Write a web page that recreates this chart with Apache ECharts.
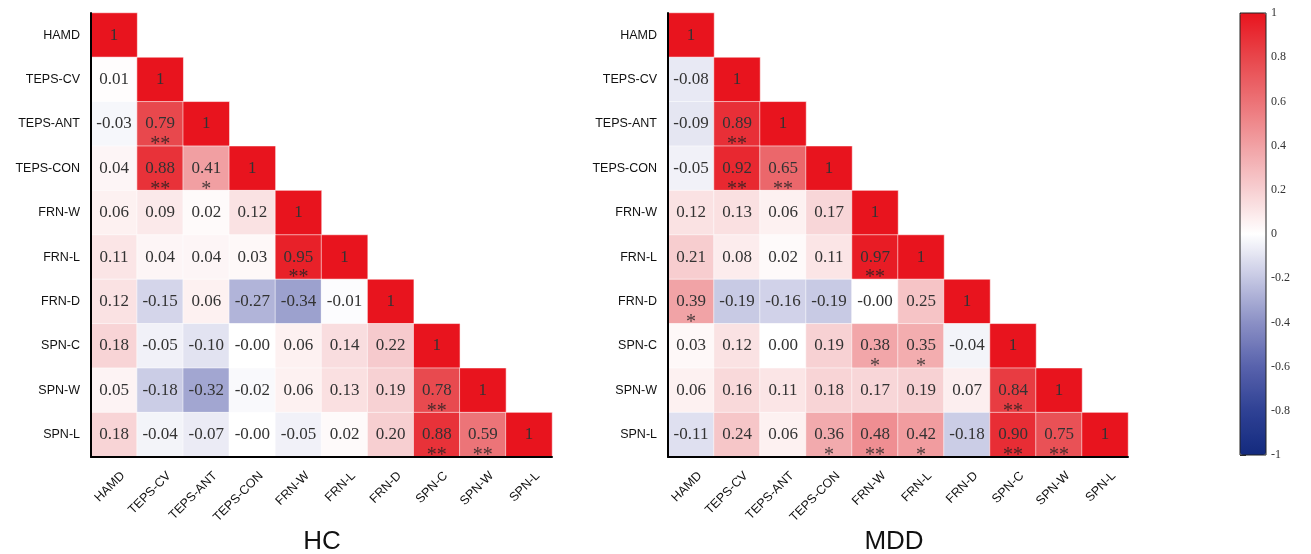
<!DOCTYPE html>
<html><head><meta charset="utf-8">
<script src="https://cdn.jsdelivr.net/npm/echarts@6/dist/echarts.min.js"></script>
<style>html,body{margin:0;padding:0;background:#fff}#c{width:1311px;height:554px}</style>
</head><body><div id="c"></div>
<script>
const vars = ['HAMD','TEPS-CV','TEPS-ANT','TEPS-CON','FRN-W','FRN-L','FRN-D','SPN-C','SPN-W','SPN-L'];
// lower-triangle rows (row i has i+1 values); -0 shown as "-0.00"
const hcRows = [
  [1],
  [0.01, 1],
  [-0.03, 0.79, 1],
  [0.04, 0.88, 0.41, 1],
  [0.06, 0.09, 0.02, 0.12, 1],
  [0.11, 0.04, 0.04, 0.03, 0.95, 1],
  [0.12, -0.15, 0.06, -0.27, -0.34, -0.01, 1],
  [0.18, -0.05, -0.10, -0, 0.06, 0.14, 0.22, 1],
  [0.05, -0.18, -0.32, -0.02, 0.06, 0.13, 0.19, 0.78, 1],
  [0.18, -0.04, -0.07, -0, -0.05, 0.02, 0.20, 0.88, 0.59, 1]
];
const hcSig = [
  [''],
  ['', ''],
  ['', '**', ''],
  ['', '**', '*', ''],
  ['', '', '', '', ''],
  ['', '', '', '', '**', ''],
  ['', '', '', '', '', '', ''],
  ['', '', '', '', '', '', '', ''],
  ['', '', '', '', '', '', '', '**', ''],
  ['', '', '', '', '', '', '', '**', '**', '']
];
const mddRows = [
  [1],
  [-0.08, 1],
  [-0.09, 0.89, 1],
  [-0.05, 0.92, 0.65, 1],
  [0.12, 0.13, 0.06, 0.17, 1],
  [0.21, 0.08, 0.02, 0.11, 0.97, 1],
  [0.39, -0.19, -0.16, -0.19, -0, 0.25, 1],
  [0.03, 0.12, 0.00, 0.19, 0.38, 0.35, -0.04, 1],
  [0.06, 0.16, 0.11, 0.18, 0.17, 0.19, 0.07, 0.84, 1],
  [-0.11, 0.24, 0.06, 0.36, 0.48, 0.42, -0.18, 0.90, 0.75, 1]
];
const mddSig = [
  [''],
  ['', ''],
  ['', '**', ''],
  ['', '**', '**', ''],
  ['', '', '', '', ''],
  ['', '', '', '', '**', ''],
  ['*', '', '', '', '', '', ''],
  ['', '', '', '', '*', '*', '', ''],
  ['', '', '', '', '', '', '', '**', ''],
  ['', '', '', '*', '**', '*', '', '**', '**', '']
];
const titles = ['HC', 'MDD'];
const colorTicks = [1, 0.8, 0.6, 0.4, 0.2, 0, -0.2, -0.4, -0.6, -0.8, -1];
const palette = ['#132a7e','#2f4194','#5862ac','#8b90c5','#c5c7e3','#ffffff','#f7cfd1','#f1a1a4','#ec7276','#e8464b','#e8141e'];

function fmt(v){
  if (v === 1) return '1';
  if (Object.is(v, -0)) return '-0.00';
  return v.toFixed(2);
}
function cells(rows){
  const out = [];
  rows.forEach((r, i) => r.forEach((v, j) => out.push({value:[j, i, v], lab: fmt(v)})));
  return out;
}
function stars(sig){
  const out = [];
  sig.forEach((r, i) => r.forEach((s, j) => { if (s) out.push({value:[j, i], s: s}); }));
  return out;
}

const grids = [
  {left: 91, top: 13, width: 461, height: 444},
  {left: 668, top: 13, width: 460, height: 444},
  {left: 1240, top: 13, width: 26, height: 442, show: true, borderColor: '#222', borderWidth: 1, backgroundColor: 'transparent', z: 10}
];
const xAxes = [], yAxes = [];
for (let g = 0; g < 2; g++) {
  xAxes.push({gridIndex: g, type: 'category', data: vars, z: 10,
    axisLine: {show: true, lineStyle: {color: '#000', width: 2}}, axisTick: {show: false},
    axisLabel: {rotate: 45, margin: 8, verticalAlign: 'top', lineHeight: 25,
      fontFamily: 'Liberation Sans', fontSize: 12.5, color: '#111', interval: 0},
    splitLine: {show: false}});
  yAxes.push({gridIndex: g, type: 'category', data: vars, inverse: true, z: 10,
    axisLine: {show: true, lineStyle: {color: '#000', width: 2}}, axisTick: {show: false},
    axisLabel: {margin: 11, fontFamily: 'Liberation Sans', fontSize: 12.5, color: '#111', interval: 0},
    splitLine: {show: false}});
}
xAxes.push({gridIndex: 2, type: 'value', show: false, min: 0, max: 1});
yAxes.push({gridIndex: 2, type: 'value', min: -1, max: 1, interval: 0.2, position: 'right',
  axisLine: {show: false}, splitLine: {show: false},
  axisTick: {show: true, length: 6, lineStyle: {color: '#333'}},
  axisLabel: {margin: 5, fontFamily: 'Liberation Serif', fontSize: 12, color: '#333',
    formatter: v => { const r = Math.round(v * 10) / 10; return colorTicks.indexOf(r) >= 0 ? String(r) : ''; }}});

const series = [];
[hcRows, mddRows].forEach((rows, g) => {
  series.push({type: 'heatmap', xAxisIndex: g, yAxisIndex: g, data: cells(rows),
    itemStyle: {borderColor: 'rgba(255,255,255,0.55)', borderWidth: 1},
    label: {show: true, formatter: p => p.data.lab, fontFamily: 'Liberation Serif', fontSize: 17, color: '#333'},
    emphasis: {disabled: true}});
});
[hcSig, mddSig].forEach((sig, g) => {
  series.push({type: 'scatter', xAxisIndex: g, yAxisIndex: g, data: stars(sig), symbolSize: 0, z: 5,
    label: {show: true, position: 'inside', offset: [0, 21], formatter: p => p.data.s,
      fontFamily: 'Liberation Serif', fontSize: 20, color: '#222'},
    emphasis: {disabled: true}});
});

const chart = echarts.init(document.getElementById('c'), null, {renderer: 'canvas'});
chart.setOption({
  animation: false,
  backgroundColor: '#fff',
  title: [
    {text: titles[0], left: 317, top: 524, textAlign: 'center', textStyle: {fontFamily: 'Liberation Sans', fontSize: 26, fontWeight: 'normal', color: '#111'}},
    {text: titles[1], left: 889, top: 524, textAlign: 'center', textStyle: {fontFamily: 'Liberation Sans', fontSize: 26, fontWeight: 'normal', color: '#111'}}
  ],
  grid: grids, xAxis: xAxes, yAxis: yAxes,
  visualMap: {type: 'continuous', min: -1, max: 1, seriesIndex: [0, 1], calculable: false,
    orient: 'vertical', left: 1240, top: 13, itemWidth: 26, itemHeight: 442, padding: 0,
    text: null, showLabel: false, inRange: {color: palette}},
  series: series
});
</script></body></html>
